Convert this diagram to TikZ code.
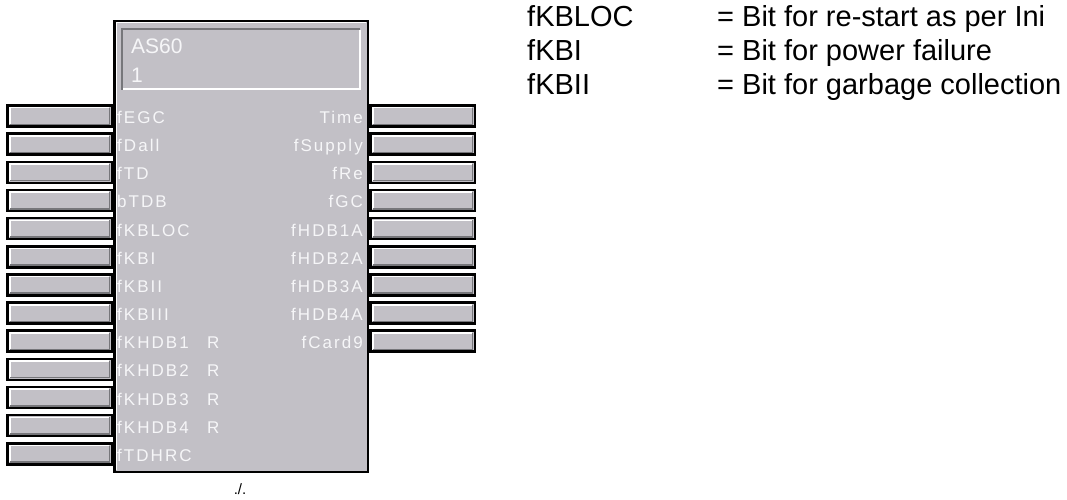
\documentclass[tikz,border=0pt]{standalone}
\usepackage{fontspec}
\setmainfont{Liberation Sans}
\newfontfamily\pinfont[LetterSpace=12]{Liberation Sans}
\definecolor{bgray}{RGB}{194,192,198}
\definecolor{ltxt}{RGB}{246,246,248}
\definecolor{dgray}{RGB}{118,118,122}
\begin{document}
\begin{tikzpicture}[x=1pt,y=-1pt,
  pinbox/.style={draw=black, line width=2.5pt, fill=bgray, minimum width=104.5pt, minimum height=21pt, inner sep=0pt, outer sep=0pt},
  pinlbl/.style={inner sep=0pt, text=ltxt, font=\pinfont\fontsize{17}{17}\selectfont},
  note/.style={inner sep=0pt, anchor=base west, font=\fontsize{29}{34}\selectfont}]
\useasboundingbox (0,0) rectangle (1067,500);

% main block
\node[draw=black, line width=2.5pt, fill=bgray, minimum width=253.5pt, minimum height=450.5pt, inner sep=0pt, outer sep=0pt, anchor=north west] (blk) at (114.25,21.25) {};
\draw[white, line width=1pt] (116,470) -- (116,23) -- (366,23);
% title box
\draw[dgray, line width=2pt] (122,90) -- (122,29) -- (360,29);
\draw[white, line width=2pt] (123,89.5) -- (359.5,89.5) -- (359.5,30);
\node[inner sep=0pt, anchor=base west, text=ltxt, font=\fontsize{21}{21}\selectfont] (title) at (131,54) {AS60};
\node[inner sep=0pt, anchor=base west, text=ltxt, font=\fontsize{21}{21}\selectfont] (inst) at (131,83) {1};

% left pins
\foreach \t [count=\i from 0] in {fEGC,fDall,fTD,bTDB,fKBLOC,fKBI,fKBII,fKBIII,{\makebox[90pt][l]{fKHDB1}R},{\makebox[90pt][l]{fKHDB2}R},{\makebox[90pt][l]{fKHDB3}R},{\makebox[90pt][l]{fKHDB4}R},fTDHRC} {
  \pgfmathsetmacro\yc{116+28.15*\i}
  \node[pinbox] (L\i) at (59.5,\yc) {};
  \draw[white, line width=1.5pt] ([shift={(2.5,-2.2)}]L\i.south west) -- ([shift={(2.5,2.2)}]L\i.north west) -- ([shift={(-2.5,2.2)}]L\i.north east);
  \draw[dgray, line width=1.5pt] ([shift={(2.5,-2.2)}]L\i.south west) -- ([shift={(-2.5,-2.2)}]L\i.south east) -- ([shift={(-2.5,2.2)}]L\i.north east);
  \pgfmathsetmacro\yb{\yc+7.5}
  \node[pinlbl, anchor=base west] (LL\i) at (117,\yb) {\t};
}
% right pins
\foreach \t [count=\i from 0] in {Time,fSupply,fRe,fGC,fHDB1A,fHDB2A,fHDB3A,fHDB4A,fCard9} {
  \pgfmathsetmacro\yc{116+28.15*\i}
  \node[pinbox] (R\i) at (422.5,\yc) {};
  \draw[white, line width=1.5pt] ([shift={(2.5,-2.2)}]R\i.south west) -- ([shift={(2.5,2.2)}]R\i.north west) -- ([shift={(-2.5,2.2)}]R\i.north east);
  \draw[dgray, line width=1.5pt] ([shift={(2.5,-2.2)}]R\i.south west) -- ([shift={(-2.5,-2.2)}]R\i.south east) -- ([shift={(-2.5,2.2)}]R\i.north east);
  \pgfmathsetmacro\yb{\yc+7.5}
  \node[pinlbl, anchor=base east] (RL\i) at (363,\yb) {\t};
}

\node[inner sep=0pt, anchor=base, font=\fontsize{15}{15}\selectfont] (neg) at (240,494) {./.};

% explanation
\node[note] (n1) at (527,27) {fKBLOC};
\node[note] (n2) at (527,61) {fKBI};
\node[note] (n3) at (527,95) {fKBII};
\node[note] (e1) at (717,27) {= Bit for re-start as per Ini};
\node[note] (e2) at (717,61) {= Bit for power failure};
\node[note] (e3) at (717,95) {= Bit for garbage collection};
\end{tikzpicture}
\end{document}
